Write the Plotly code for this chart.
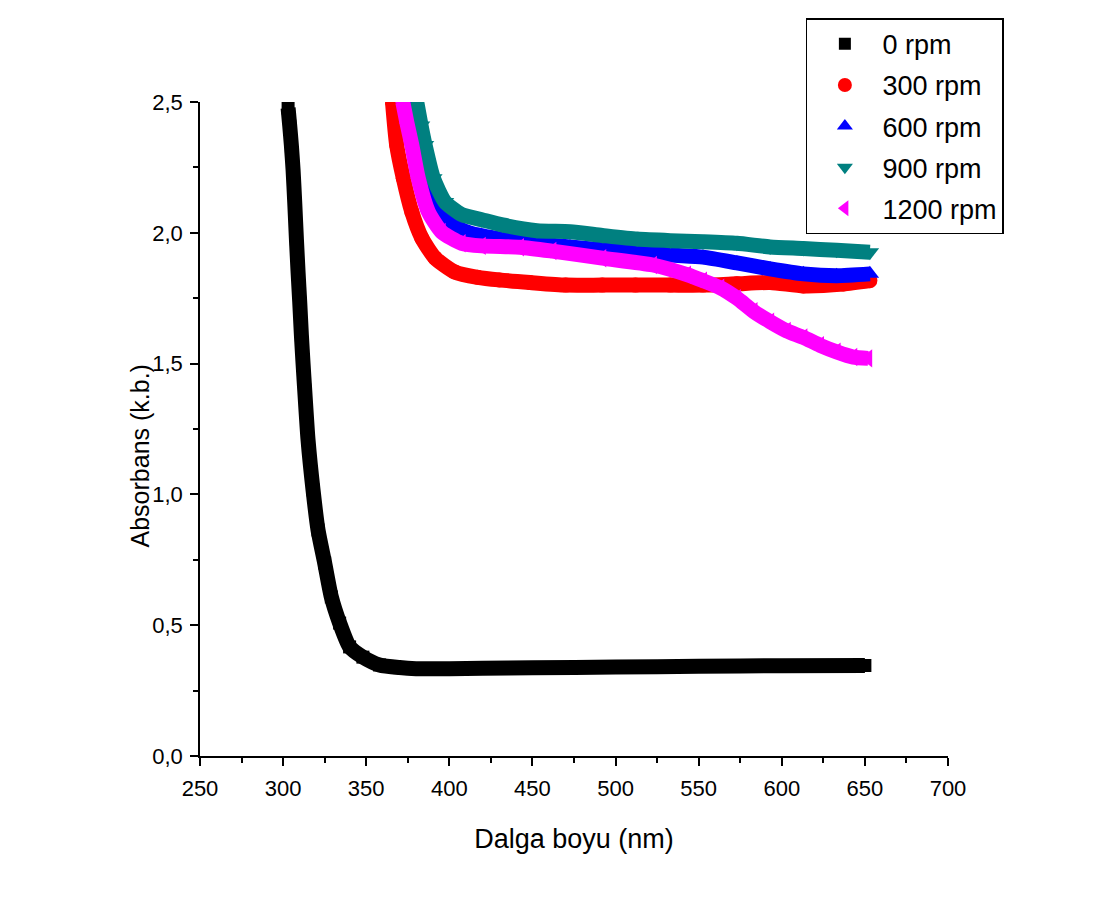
import plotly.graph_objects as go

# ---- data ----
wl_0 = [303, 304, 305, 306, 307, 308, 309, 310, 311, 312, 313, 315, 318, 321, 325, 329,
        334, 340, 348, 358, 370, 380, 400, 420, 450, 500, 550, 600, 650]
abs_0 = [2.477, 2.408, 2.332, 2.240, 2.114, 1.976, 1.850, 1.735, 1.609, 1.50, 1.399, 1.208,
         1.017, 0.864, 0.738, 0.608, 0.508, 0.417, 0.378, 0.348, 0.338, 0.334, 0.334,
         0.335, 0.337, 0.340, 0.343, 0.345, 0.346]

wl_300 = [365.8, 368.3, 372.3, 377.4, 383.4, 391.4, 403.4, 417, 430, 448.5, 470, 492,
          512, 533, 552.6, 573, 593, 613, 637, 653]
abs_300 = [2.5, 2.336, 2.209, 2.08, 1.98, 1.904, 1.85, 1.83, 1.82, 1.81, 1.80, 1.80,
           1.80, 1.80, 1.80, 1.805, 1.81, 1.797, 1.804, 1.817]

wl_600 = [377.4, 380, 383, 386.8, 392.9, 400, 412, 432, 450, 472.6, 492, 513, 533, 552.6,
          573, 593, 613, 633, 653]
abs_600 = [2.5, 2.42, 2.32, 2.209, 2.08, 2.035, 2.0, 1.975, 1.96, 1.946, 1.935, 1.927,
           1.915, 1.907, 1.885, 1.862, 1.843, 1.836, 1.843]

wl_900 = [380.4, 383, 385.4, 390.4, 397.4, 407.4, 419.5, 432, 452.7, 472.6, 492, 513,
          533, 552.6, 573, 593, 613, 633, 653]
abs_900 = [2.5, 2.41, 2.336, 2.209, 2.118, 2.07, 2.05, 2.03, 2.008, 2.004, 1.99, 1.976,
           1.97, 1.966, 1.96, 1.946, 1.94, 1.933, 1.926]

wl_1200 = [372, 374.5, 377.4, 381.3, 387.4, 395.4, 407.4, 419.5, 442.5, 462, 492, 522.5,
           543, 552.6, 563, 573, 583, 593, 603, 613, 623, 633, 643, 652]
abs_1200 = [2.5, 2.42, 2.336, 2.209, 2.08, 2.003, 1.96, 1.95, 1.945, 1.93, 1.903, 1.877,
            1.84, 1.817, 1.79, 1.75, 1.70, 1.66, 1.625, 1.60, 1.57, 1.545, 1.525, 1.52]

series = [
    ("0 rpm", wl_0, abs_0, "#000000", "square", 13),
    ("300 rpm", wl_300, abs_300, "#FF0000", "circle", 15),
    ("600 rpm", wl_600, abs_600, "#0000FF", "triangle-up", 16),
    ("900 rpm", wl_900, abs_900, "#008080", "triangle-down", 16),
    ("1200 rpm", wl_1200, abs_1200, "#FF00FF", "triangle-left", 16),
]

fig = go.Figure()
for i in range(5):
    name, x, y, col, sym, sz = series[i]
    # thick band joining the dense markers
    fig.add_trace(go.Scatter(
        x=x, y=y, mode="lines",
        line=dict(color=col, width=15, shape="spline", smoothing=0.6),
        showlegend=False, hoverinfo="skip",
    ))
    fig.add_trace(go.Scatter(
        x=x, y=y, mode="markers", name=name,
        marker=dict(color=col, symbol=sym, size=sz, line=dict(width=0)),
        showlegend=False,
    ))
# legend entries (markers only)
for i in range(5):
    name, x, y, col, sym, sz = series[i]
    fig.add_trace(go.Scatter(
        x=[None], y=[None], mode="markers", name=name,
        marker=dict(color=col, symbol=sym, size=14 if sym != "square" else 12),
        legendgroup=name, showlegend=True,
    ))

axis_common = dict(
    showline=True, linecolor="black", linewidth=1.5, mirror=False,
    showgrid=False, zeroline=False,
    ticks="outside", ticklen=8, tickwidth=1.5, tickcolor="black",
    tickfont=dict(family="Arial", size=22, color="black"),
)

fig.update_layout(
    width=1094, height=899,
    paper_bgcolor="white", plot_bgcolor="white",
    margin=dict(l=200, r=146, t=102, b=143),
    separators=",.",
    font=dict(family="Arial", color="black"),
    xaxis=dict(range=[250, 700], dtick=50, tick0=250, ticklabelstandoff=4,
               minor=dict(dtick=25, ticklen=5, tickwidth=1.5, tickcolor="black", ticks="outside"),
               title=dict(text="Dalga boyu (nm)", font=dict(family="Arial", size=27), standoff=29),
               **axis_common),
    yaxis=dict(range=[0, 2.5], dtick=0.5, tick0=0, tickformat=".1f", ticklabelstandoff=3,
               minor=dict(dtick=0.25, ticklen=5, tickwidth=1.5, tickcolor="black", ticks="outside"),
               **axis_common),
    annotations=[dict(
        text="Absorbans (k.b.)", textangle=-90, showarrow=False,
        xref="paper", yref="paper", x=-0.0802, y=0.458, xanchor="center", yanchor="middle",
        font=dict(family="Arial", size=25, color="black"),
    )],
    legend=dict(
        x=0.81, y=1.128, xanchor="left", yanchor="top",
        bordercolor="black", borderwidth=1.5, bgcolor="white",
        font=dict(family="Arial", size=27, color="black"),
        traceorder="grouped", tracegroupgap=3, itemwidth=65,
    ),
)

fig.write_html("out.html")
